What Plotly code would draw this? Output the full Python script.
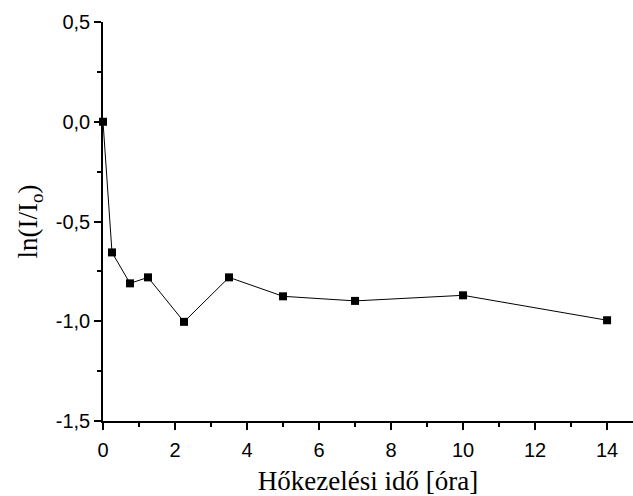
import plotly.graph_objects as go

# Heat-treatment time [hours] and ln(I/Io)
hours = [0, 0.25, 0.75, 1.25, 2.25, 3.5, 5, 7, 10, 14]
ln_ratio = [0.0, -0.655, -0.81, -0.78, -1.003, -0.78, -0.875, -0.898, -0.87, -0.995]

x_ticks = [0, 2, 4, 6, 8, 10, 12, 14]
y_ticks = [-1.5, -1.0, -0.5, 0.0, 0.5]
y_tick_labels = ["-1,5", "-1,0", "-0,5", "0,0", "0,5"]

fig = go.Figure()
fig.add_trace(go.Scatter(
    x=hours, y=ln_ratio, mode="lines+markers",
    line=dict(color="black", width=1),
    marker=dict(symbol="square", size=8, color="black"),
    cliponaxis=False, showlegend=False,
))

axis_common = dict(
    showline=True, linecolor="black", linewidth=1.5,
    ticks="outside", ticklen=7, tickwidth=1.5, tickcolor="black",
    showgrid=False, zeroline=False, mirror=False,
    tickfont=dict(family="Liberation Sans, Arial", size=20, color="black"),
)

title_font = dict(family="Liberation Serif, Times New Roman", size=27, color="black")

fig.update_layout(
    width=633, height=496,
    margin=dict(l=103, r=0, t=22, b=75),
    paper_bgcolor="white", plot_bgcolor="white",
    xaxis=dict(
        range=[0, 14.72], tickvals=x_ticks, ticklabelstandoff=3,
        minor=dict(dtick=1, tick0=0, ticks="outside", ticklen=4, tickwidth=1.5, tickcolor="black"),
        title=dict(text="Hőkezelési idő [óra]", standoff=14, font=title_font),
        **axis_common,
    ),
    yaxis=dict(
        range=[-1.5, 0.5], tickvals=y_ticks, ticktext=y_tick_labels,
        minor=dict(dtick=0.25, tick0=0, ticks="outside", ticklen=4, tickwidth=1.5, tickcolor="black"),
        title=dict(text="ln(I/I<sub>o</sub>)", standoff=10, font=title_font),
        **axis_common,
    ),
)

fig.write_html("out.html")
